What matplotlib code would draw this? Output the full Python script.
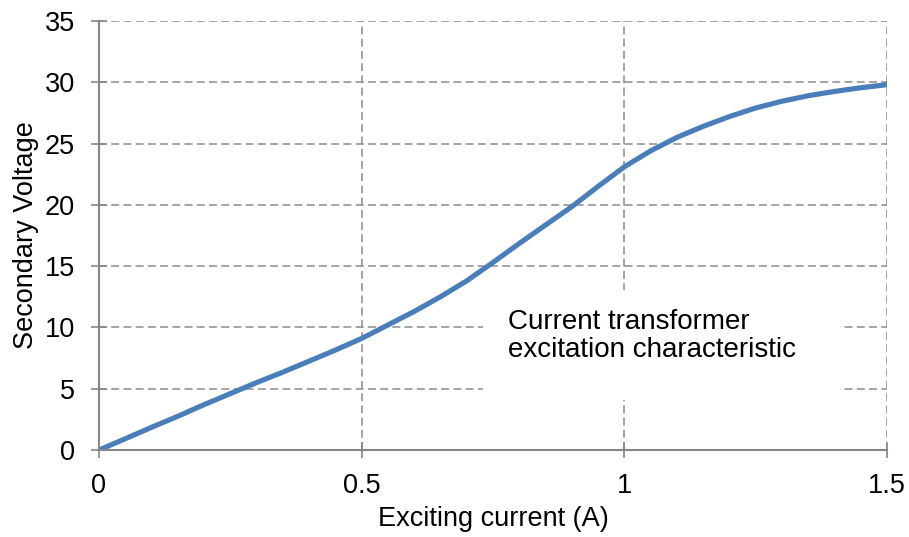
import matplotlib
matplotlib.use("Agg")
import matplotlib.pyplot as plt
from matplotlib.patches import Rectangle

plt.rcParams['font.family'] = ['Liberation Sans', 'DejaVu Sans']

# Data
current = [0.0, 0.05, 0.1, 0.15, 0.2, 0.25, 0.3, 0.35, 0.4, 0.45, 0.5, 0.55, 0.6, 0.65,
           0.7, 0.75, 0.8, 0.85, 0.9, 0.95, 1.0, 1.05, 1.1, 1.15, 1.2, 1.25, 1.3, 1.35,
           1.4, 1.45, 1.5]
voltage = [0.0, 0.92, 1.85, 2.75, 3.7, 4.6, 5.5, 6.35, 7.25, 8.15, 9.1, 10.2, 11.3, 12.5,
           13.8, 15.3, 16.85, 18.35, 19.85, 21.5, 23.1, 24.4, 25.5, 26.4, 27.2, 27.9, 28.45, 28.9,
           29.25, 29.55, 29.8]
xticks = [0, 0.5, 1, 1.5]
xtick_labels = ['0', '0.5', '1', '1.5']
yticks = [0, 5, 10, 15, 20, 25, 30, 35]
annotation = 'Current transformer\nexcitation characteristic'

fig = plt.figure(figsize=(9.09, 5.37), dpi=100)
ax = fig.add_axes([0.1089, 0.162, 0.8669, 0.799])

grid_color = '#8c8c8c'
ax.set_xlim(0, 1.5)
ax.set_ylim(0, 35)
ax.set_xticks(xticks)
ax.set_xticklabels(xtick_labels)
ax.set_yticks(yticks)

for y in yticks[1:]:
    ax.axhline(y, color=grid_color, lw=1.1, ls=(0, (5.2, 2.8)), zorder=1)
for x in xticks[1:]:
    ax.axvline(x, color=grid_color, lw=1.1, ls=(0, (5.2, 2.8)), zorder=1)

# white box behind annotation
ax.add_patch(Rectangle((0.731, 4.08), 0.68, 8.97, facecolor='white', edgecolor='none', zorder=2))

ax.plot(current, voltage, color='#4a7ebb', lw=3.7, solid_capstyle='round',
        solid_joinstyle='round', zorder=3)

ax.text(0.779, 9.3, annotation, fontsize=20, ha='left', va='center', linespacing=1.12, zorder=4)

for s in ['top', 'right']:
    ax.spines[s].set_visible(False)
for s in ['left', 'bottom']:
    ax.spines[s].set_color('#868686')
    ax.spines[s].set_linewidth(1.5)
    ax.spines[s].set_zorder(5)

ax.tick_params(axis='both', direction='inout', length=11, width=1.2, color='#868686',
               labelsize=19.5, labelcolor='black')
ax.tick_params(axis='y', pad=12)
ax.tick_params(axis='x', pad=11)

ax.set_xlabel('Exciting current (A)', fontsize=19.5, labelpad=5)
ax.set_ylabel('Secondary Voltage', fontsize=19.5, labelpad=4)

fig.savefig('out.png', dpi=100)
